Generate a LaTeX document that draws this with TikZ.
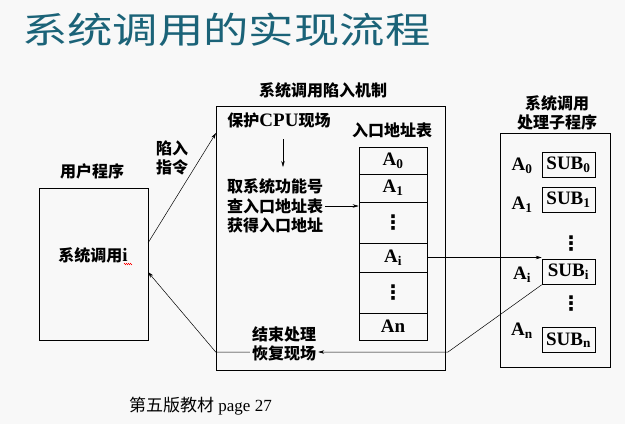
\documentclass[tikz,border=0pt]{standalone}
\usepackage{fontspec}
\setmainfont{Liberation Serif}
\newfontfamily\cjk{Noto Sans CJK SC}
\newfontfamily\dotsfont{DejaVu Sans}
\usetikzlibrary{arrows.meta,decorations.pathmorphing}
\definecolor{titleTeal}{HTML}{1B6378}
\definecolor{paperGray}{HTML}{F8F8F8}
\newcommand{\latbig}{\fontsize{19}{19}\selectfont}
\newcommand{\vdotsbig}{{\dotsfont\bfseries\fontsize{20}{20}\selectfont ⋮}}

\begin{document}
\begin{tikzpicture}[x=1pt, y=-1pt,
        box/.style={draw, line width=0.6pt, inner sep=0pt},
        cell/.style={box, minimum width=68pt, font=\latbig\bfseries},
        sub/.style={box, minimum width=53pt, minimum height=25pt, font=\latbig\bfseries},
        txt/.style={font=\fontsize{16}{19.5}\selectfont\bfseries, inner sep=2pt, align=center},
        lat/.style={font=\latbig\bfseries, inner sep=0pt},
        arr/.style={-{Stealth[length=6pt, width=3.5pt]}, line width=0.5pt},
        ln/.style={line width=0.5pt}
    ]
        % --- fondo y titulo ---
        \fill[paperGray] (0,0) rectangle (625,424);
        \useasboundingbox (0,0) rectangle (625,424);
        \node[anchor=west, inner sep=0pt, text=titleTeal, font=\cjk\fontsize{36}{38}\selectfont] (title) at (22,30) {\scalebox{1.26}[1]{系统调用的实现流程}};

        % --- programa de usuario ---
        \node[txt] (userlbl) at (92,171) {\cjk 用户程序};
        \node[box, minimum width=109pt, minimum height=152pt] (user) at (93.5,264) {};
        \node[txt] (call) at (93,255) {{\cjk 系统调用}{\latbig i}};
        \draw[red, line width=0.4pt, decorate, decoration={zigzag, amplitude=0.8pt, segment length=2pt}] (124,264) -- (132,264);
        \node[txt] (trap) at (172,158) {\cjk 陷入\\\cjk 指令};

        % --- mecanismo de trampa ---
        \node[txt] (mechlbl) at (323,90) {\cjk 系统调用陷入机制};
        \node[box, minimum width=229pt, minimum height=264pt] (mech) at (330.5,238) {};
        \node[txt] (save) at (279,120) {{\cjk 保护}{\latbig CPU}{\cjk 现场}};
        \node[txt, align=left, anchor=west] (query) at (225,206) {\cjk 取系统功能号\\\cjk 查入口地址表\\\cjk 获得入口地址};
        \node[txt] (finish) at (284,344) {\cjk 结束处理\\\cjk 恢复现场};
        \node[txt] (tablelbl) at (392,130) {\cjk 入口地址表};

        % tabla de entradas
        \node[cell, minimum height=27pt] (A0) at (393,160.5) {A\textsubscript{0}};
        \node[cell, minimum height=28pt] (A1) at (393,188) {A\textsubscript{1}};
        \node[cell, minimum height=41pt] (dotsA) at (393,222.5) {\vdotsbig};
        \node[cell, minimum height=29pt] (Ai) at (393,257.5) {A\textsubscript{i}};
        \node[cell, minimum height=41pt] (dotsB) at (393,292.5) {\vdotsbig};
        \node[cell, minimum height=27pt] (An) at (393,326.5) {An};

        % --- subprogramas ---
        \node[txt] (sublbl) at (557,113) {\cjk 系统调用\\\cjk 处理子程序};
        \node[box, minimum width=110pt, minimum height=234pt] (handlers) at (555,250) {};
        \node[sub] (SUB0) at (568.5,165) {SUB\textsubscript{0}};
        \node[sub] (SUB1) at (568.5,200) {SUB\textsubscript{1}};
        \node[sub] (SUBi) at (568.5,272) {SUB\textsubscript{i}};
        \node[sub] (SUBn) at (568.5,340) {SUB\textsubscript{n}};
        \node[lat] (a0) at (522,166) {A\textsubscript{0}};
        \node[lat] (a1) at (522,205) {A\textsubscript{1}};
        \node[lat] (ai) at (522,275) {A\textsubscript{i}};
        \node[lat] (an) at (522,331) {A\textsubscript{n}};
        \node[lat] (dotsC) at (571,244) {\vdotsbig};
        \node[lat] (dotsD) at (571,304) {\vdotsbig};

        % --- conexiones ---
        \coordinate (trapout) at (148,243);
        \coordinate (trapin) at (216,133);
        \coordinate (bend) at (448,352);
        \coordinate (back) at (148,272);
        \draw[arr] (trapout) -- (trapin);
        \draw[arr] (283,139) -- (283,167);
        \draw[arr] (query.east) -- (query.east -| dotsA.west);
        \draw[arr] (Ai.east) -- (Ai.east -| SUBi.west);
        \draw[arr] (SUBi.south west) -- (bend) -- (bend -| finish.east);
        \draw[arr] (bend -| finish.west) -- (bend -| mech.west) -- (back);

        % pie
        \node[anchor=west, inner sep=0pt, font=\fontsize{17}{20}\selectfont] (source) at (129,406) {{\cjk 第五版教材} page 27};
    \end{tikzpicture}
\end{document}
